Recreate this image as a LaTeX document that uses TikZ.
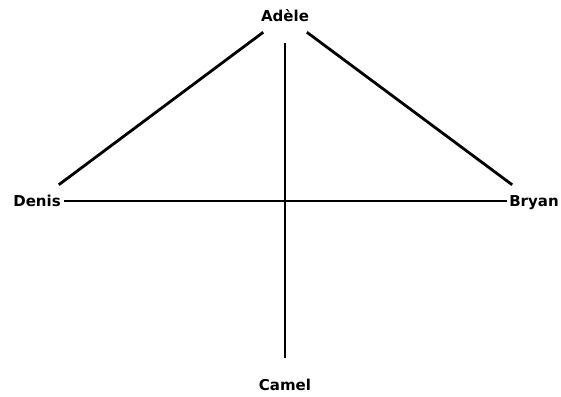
\documentclass[tikz,border=0pt]{standalone}
\usepackage{fontspec}
\setmainfont{DejaVu Sans}
\begin{document}
\begin{tikzpicture}[x=1pt,y=-1pt,
  person/.style={circle,minimum size=54pt,inner sep=0pt,text height=11pt,text depth=0pt,font=\bfseries\fontsize{15}{17}\selectfont},
  link/.style={line width=2.8pt,black}]
\useasboundingbox (0,0) rectangle (561,396);
\node[person] (A) at (285,16) {Adèle};
\node[person] (D) at (37,201) {Denis};
\node[person] (B) at (534,201) {Bryan};
\node[person] (C) at (285,385) {Camel};
\draw[link] (A) -- (D);
\draw[link] (A) -- (B);
\draw[link] (A) -- (C);
\draw[link] (D) -- (B);
\end{tikzpicture}
\end{document}
